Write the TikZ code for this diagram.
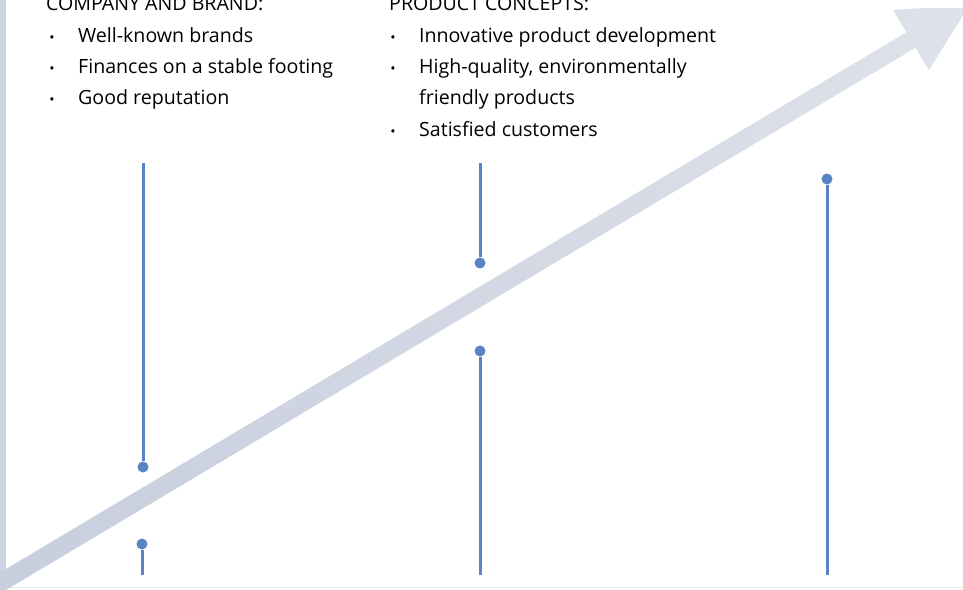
\documentclass[tikz,border=0pt]{standalone}
\usepackage{fontspec}
\setmainfont{Open Sans}
\usetikzlibrary{calc}

\definecolor{stemblue}{RGB}{88,132,196}
\definecolor{arrowdark}{RGB}{198,205,220}
\definecolor{arrowlight}{RGB}{222,226,234}
\definecolor{edgegrey}{RGB}{206,211,226}

\begin{document}
\begin{tikzpicture}[x=1pt,y=-1pt,
    stem/.style={stemblue,line width=3pt},
    dot/.style={circle,fill=stemblue,inner sep=0pt,minimum size=11pt},
    txt/.style={anchor=base west,inner sep=0pt,font=\fontsize{19.6}{22}\selectfont,text=black},
    bul/.style={anchor=base,inner sep=0pt,font=\fontsize{14}{16}\selectfont,text=black}]
    \useasboundingbox (0,0) rectangle (963,589);
    \fill[white] (0,0) rectangle (963,589);

    % Edges of the sheet
    \fill[edgegrey] (0,0) rectangle (6,589);
    \draw[black!8,line width=1.5pt] (0,587.5) -- (963,587.5);

    % Rising arrow
    \begin{scope}
        \clip (0,8) rectangle (963,589);
        \coordinate (base) at (911,40);
        \coordinate (tail) at ($(base)+(149.2:1100)$);
        \coordinate (tip) at ($(base)+(-30.8:68)$);
        \coordinate (wingA) at ($(base)+(-120.8:35)$);
        \coordinate (wingB) at ($(base)+(59.2:35)$);
        \shade[left color=arrowdark,right color=arrowlight]
            ($(tail)+(-120.8:9)$) -- ($(base)+(-120.8:9)$) -- (wingA) -- (tip)
            -- (wingB) -- ($(base)+(59.2:9)$) -- ($(tail)+(59.2:9)$) -- cycle;
    \end{scope}

    % Stems
    \coordinate (s1top) at (143,163);
    \node[dot] (s1dot) at (143,467) {};
    \draw[stem] (s1top) -- (s1dot);

    \node[dot] (s2dot) at (142,544) {};
    \coordinate (s2foot) at (142,575);
    \draw[stem] (s2dot) -- (s2foot);

    \coordinate (s3top) at (480,163);
    \node[dot] (s3dot) at (480,263) {};
    \draw[stem] (s3top) -- (s3dot);

    \node[dot] (s4dot) at (480,351) {};
    \coordinate (s4foot) at (480,575);
    \draw[stem] (s4dot) -- (s4foot);

    \node[dot] (s5dot) at (827,179) {};
    \coordinate (s5foot) at (827,575);
    \draw[stem] (s5dot) -- (s5foot);

    % Company column
    \node[txt] (compHead) at (46,10.5) {COMPANY AND BRAND:};
    \node[bul] at (52,42) {\textbullet};
    \node[txt] (comp1) at (78,42) {Well-known brands};
    \node[bul] at (52,73) {\textbullet};
    \node[txt] (comp2) at (78,73) {Finances on a stable footing};
    \node[bul] at (52,104) {\textbullet};
    \node[txt] (comp3) at (78,104) {Good reputation};

    % Product column
    \node[txt] (prodHead) at (389,10.5) {PRODUCT CONCEPTS:};
    \node[bul] at (393,42) {\textbullet};
    \node[txt] (prod1) at (419,42) {Innovative product development};
    \node[bul] at (393,73) {\textbullet};
    \node[txt] (prod2) at (419,73) {High-quality, environmentally};
    \node[txt] (prod2b) at (419,104) {friendly products};
    \node[bul] at (393,136) {\textbullet};
    \node[txt] (prod3) at (419,136) {Satisfied customers};
\end{tikzpicture}
\end{document}
